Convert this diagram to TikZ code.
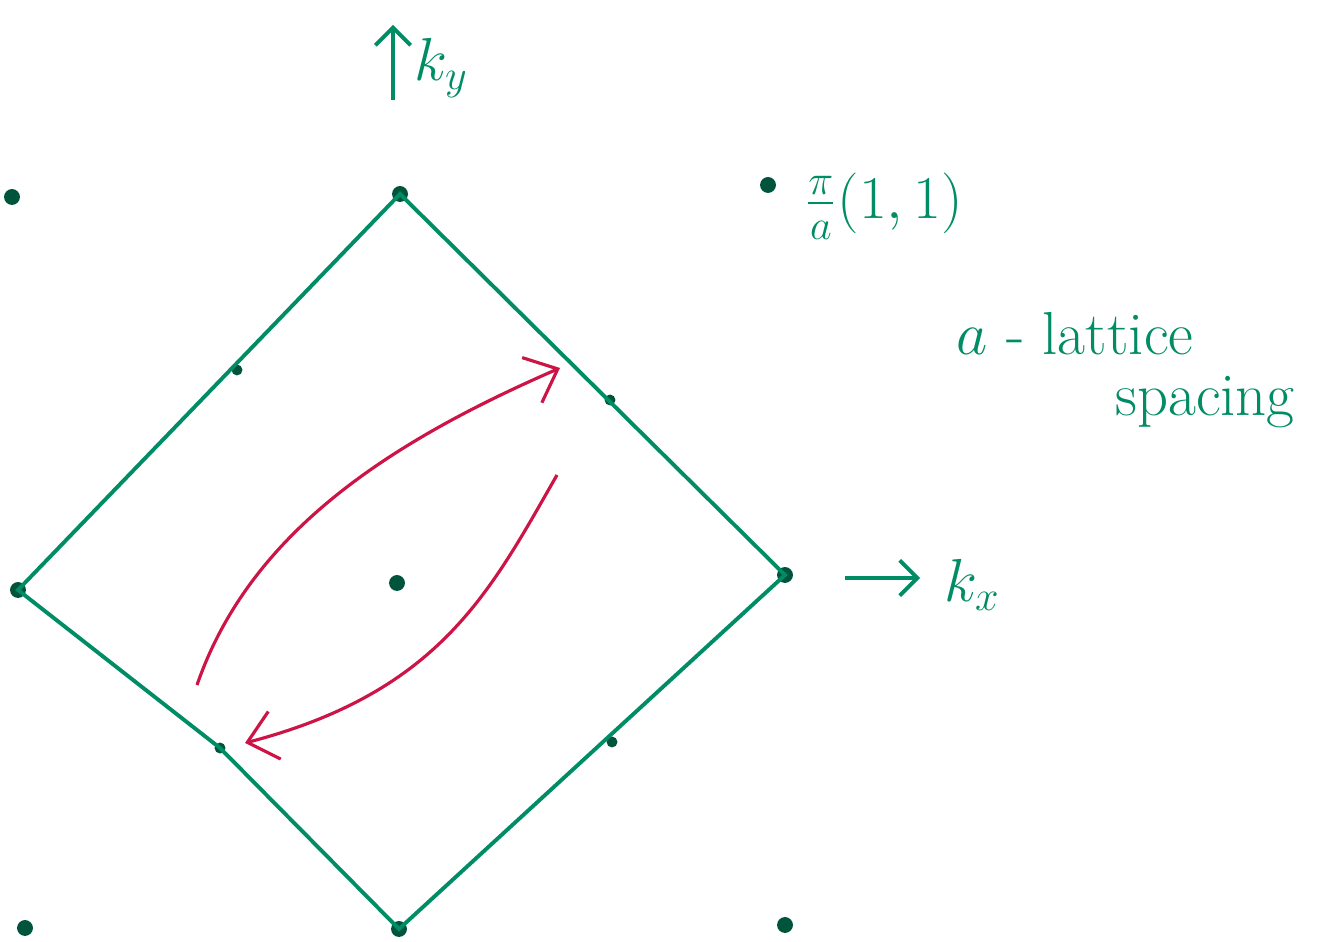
\documentclass[tikz,border=0pt]{standalone}
\usepackage{xcolor}
\usepackage{tikz}
\usetikzlibrary{arrows.meta}

\definecolor{inkgreen}{RGB}{0,140,100}
\definecolor{inkred}{RGB}{205,20,70}

\begin{document}
\begin{tikzpicture}[
  dot/.style={circle, fill=inkgreen!60!black, inner sep=1.6pt},
  edge/.style={draw=inkgreen, line width=1.1pt},
  ar/.style={-{Straight Barb[length=5pt]}, draw=inkgreen, line width=1.1pt},
  flip/.style={-{Straight Barb[length=8pt, width=14pt]}, draw=inkred, line width=0.9pt},
  lbl/.style={text=inkgreen, font=\LARGE, inner sep=1pt}
]
\useasboundingbox (0,0) rectangle (13.23,9.42);

% lattice points
\node[dot] (top) at (4.00,7.48) {};
\node[dot] (right) at (7.85,3.67) {};
\node[dot] (bottom) at (3.99,0.13) {};
\node[dot] (left) at (0.18,3.52) {};
\node[dot] (cen) at (3.97,3.59) {};
\node[dot] (ul) at (0.12,7.45) {};
\node[dot] (ur) at (7.68,7.57) {};
\node[dot] (ll) at (0.25,0.14) {};
\node[dot] (lr) at (7.85,0.17) {};
\node[dot, inner sep=1.1pt] (mul) at (2.37,5.72) {};
\node[dot, inner sep=1.1pt] (mur) at (6.10,5.42) {};
\node[dot, inner sep=1.1pt] (mll) at (2.20,1.94) {};
\node[dot, inner sep=1.1pt] (mlr) at (6.12,2.00) {};

% zone boundary
\draw[edge] (top.center) -- (right.center) -- (bottom.center)
  -- (mll.center) -- (left.center) -- cycle;

% axes
\coordinate (kyfoot) at (3.93,8.42);
\coordinate (kyhead) at (3.93,9.17);
\coordinate (kxfoot) at (8.45,3.64);
\coordinate (kxhead) at (9.20,3.64);
\draw[ar] (kyfoot) -- (kyhead);
\draw[ar] (kxfoot) -- (kxhead);
\node[lbl, right=0pt] (ky) at (4.10,8.74) {$k_y$};
\node[lbl, right=0pt] (kx) at (9.40,3.57) {$k_x$};

% labels
\node[lbl, right=0pt] (pia) at (8.00,7.36) {$\frac{\pi}{a}(1,1)$};
\node[lbl] (latt) at (10.75,6.08) {$a$ - lattice};
\node[lbl] (spac) at (12.05,5.40) {spacing};

% umklapp arrows
\coordinate (upfoot) at (1.97,2.57);
\coordinate (uphead) at (5.60,5.74);
\coordinate (dnfoot) at (5.57,4.67);
\coordinate (dnhead) at (2.45,1.99);
\draw[flip] (upfoot) .. controls (2.5,4.1) and (3.9,5.0) .. (uphead);
\draw[flip] (dnfoot) .. controls (4.9,3.5) and (4.4,2.5) .. (dnhead);
\end{tikzpicture}
\end{document}
